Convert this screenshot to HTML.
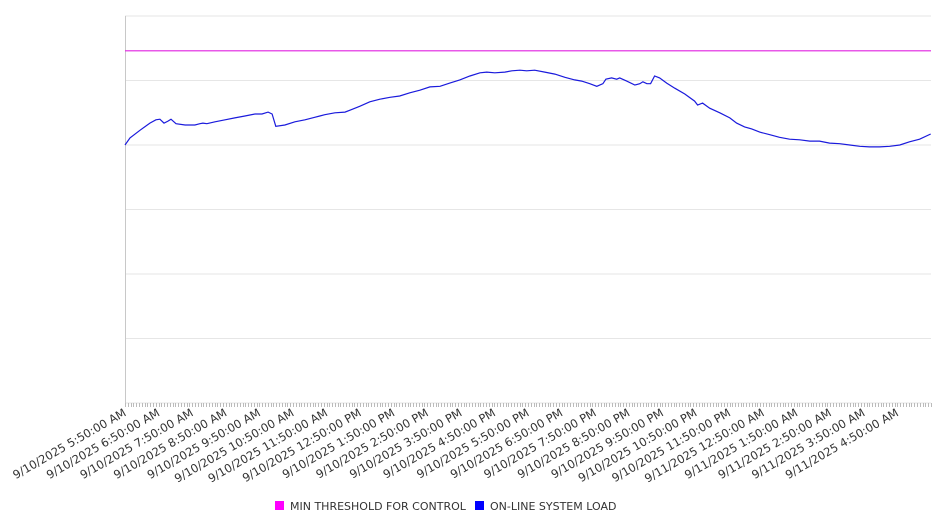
<!DOCTYPE html>
<html><head><meta charset="utf-8"><style>
body{margin:0;background:#fff;width:946px;height:526px;overflow:hidden;font-family:"Liberation Sans","DejaVu Sans",sans-serif}
</style></head><body>
<svg id="chart" width="946" height="526" xmlns="http://www.w3.org/2000/svg" font-family="'DejaVu Sans','Liberation Sans',sans-serif"></svg>
<script>
const xLabels=["9/10/2025 5:50:00 AM","9/10/2025 6:50:00 AM","9/10/2025 7:50:00 AM","9/10/2025 8:50:00 AM","9/10/2025 9:50:00 AM","9/10/2025 10:50:00 AM","9/10/2025 11:50:00 AM","9/10/2025 12:50:00 PM","9/10/2025 1:50:00 PM","9/10/2025 2:50:00 PM","9/10/2025 3:50:00 PM","9/10/2025 4:50:00 PM","9/10/2025 5:50:00 PM","9/10/2025 6:50:00 PM","9/10/2025 7:50:00 PM","9/10/2025 8:50:00 PM","9/10/2025 9:50:00 PM","9/10/2025 10:50:00 PM","9/10/2025 11:50:00 PM","9/11/2025 12:50:00 AM","9/11/2025 1:50:00 AM","9/11/2025 2:50:00 AM","9/11/2025 3:50:00 AM","9/11/2025 4:50:00 AM"];
const yTicks=[0,1,2,3,4,5,6];
const threshold=5.46;
const loadHours=[0,0.15,0.45,0.74,0.92,1.04,1.16,1.28,1.37,1.52,1.79,2.08,2.23,2.32,2.44,2.68,2.98,3.27,3.57,3.87,4.08,4.26,4.38,4.49,4.76,5.06,5.36,5.65,5.80,5.95,6.25,6.55,6.70,6.99,7.29,7.59,7.89,8.18,8.48,8.78,9.08,9.38,9.67,9.97,10.27,10.57,10.77,11.01,11.31,11.52,11.76,11.96,12.20,12.50,12.80,13.10,13.39,13.60,13.84,14.05,14.23,14.32,14.49,14.64,14.73,14.94,15.18,15.33,15.42,15.54,15.65,15.77,15.92,16.13,16.37,16.67,16.96,17.05,17.20,17.41,17.71,18.01,18.21,18.45,18.66,18.90,19.20,19.49,19.79,20.09,20.39,20.68,20.98,21.28,21.58,21.88,22.17,22.47,22.77,23.07,23.36,23.66,23.99];
const loadValues=[4.00,4.11,4.23,4.34,4.39,4.40,4.34,4.37,4.40,4.33,4.31,4.31,4.33,4.34,4.33,4.36,4.39,4.42,4.45,4.48,4.48,4.51,4.48,4.29,4.31,4.36,4.39,4.43,4.45,4.47,4.50,4.51,4.54,4.60,4.67,4.71,4.74,4.76,4.81,4.85,4.90,4.91,4.96,5.01,5.07,5.12,5.13,5.12,5.13,5.15,5.16,5.15,5.16,5.13,5.10,5.05,5.01,4.99,4.95,4.91,4.95,5.02,5.04,5.02,5.04,4.99,4.93,4.95,4.98,4.95,4.95,5.07,5.04,4.96,4.88,4.79,4.68,4.62,4.65,4.57,4.50,4.42,4.34,4.28,4.25,4.20,4.16,4.12,4.09,4.08,4.06,4.06,4.03,4.02,4.00,3.98,3.97,3.97,3.98,4.00,4.05,4.09,4.17];

const NS="http://www.w3.org/2000/svg";
const svg=document.getElementById('chart');
const L=125,R=931,T=16,B=403;
const xScale=h=>L+h*(R-L)/24;
const yScale=v=>B-v*(B-T)/6;
function mk(tag,attrs,parent){const e=document.createElementNS(NS,tag);for(const k in attrs)e.setAttribute(k,attrs[k]);(parent||svg).appendChild(e);return e;}

yTicks.forEach(t=>{
  const g=mk('line',{x1:L,x2:R,y1:yScale(t),y2:yScale(t),stroke:'#e6e6e6','stroke-width':1});
  
  
});
const ax=mk('line',{x1:L+0.5,x2:L+0.5,y1:T,y2:B,stroke:'#c8c8c8','stroke-width':1});


for(let i=0;i<=24*12;i++){
  const x=Math.round(xScale(i/12))+0.5;
  const tk=mk('line',{x1:x,x2:x,y1:B,y2:B+4,stroke:'#bbb','stroke-width':1});
  
  
}
xLabels.forEach((s,i)=>{
  const x=xScale(i)+2,y=B+12;
  const t=mk('text',{x:x,y:y,'text-anchor':'end','font-size':'11.5',fill:'#333',transform:`rotate(-30 ${x} ${y})`});
  t.textContent=s;
  
  
});
const th=mk('line',{x1:L,x2:R,y1:yScale(threshold),y2:yScale(threshold),stroke:'#e020e0','stroke-width':1.2});


const pts=loadHours.map((h,i)=>xScale(h).toFixed(1)+','+yScale(loadValues[i]).toFixed(1)).join(' ');
const ln=mk('polyline',{points:pts,fill:'none',stroke:'#1a1adc','stroke-width':1.2});



const lg=mk('g',{});


const r1=mk('rect',{x:275,y:501,width:9,height:9,fill:'#ff00ff'},lg);


const t1=mk('text',{x:290,y:510,'font-size':'11',fill:'#333'},lg);
t1.textContent='MIN THRESHOLD FOR CONTROL';


const r2=mk('rect',{x:475,y:501,width:9,height:9,fill:'#0000ff'},lg);


const t2=mk('text',{x:490,y:510,'font-size':'11',fill:'#333'},lg);
t2.textContent='ON-LINE SYSTEM LOAD';


</script>
</body></html>
